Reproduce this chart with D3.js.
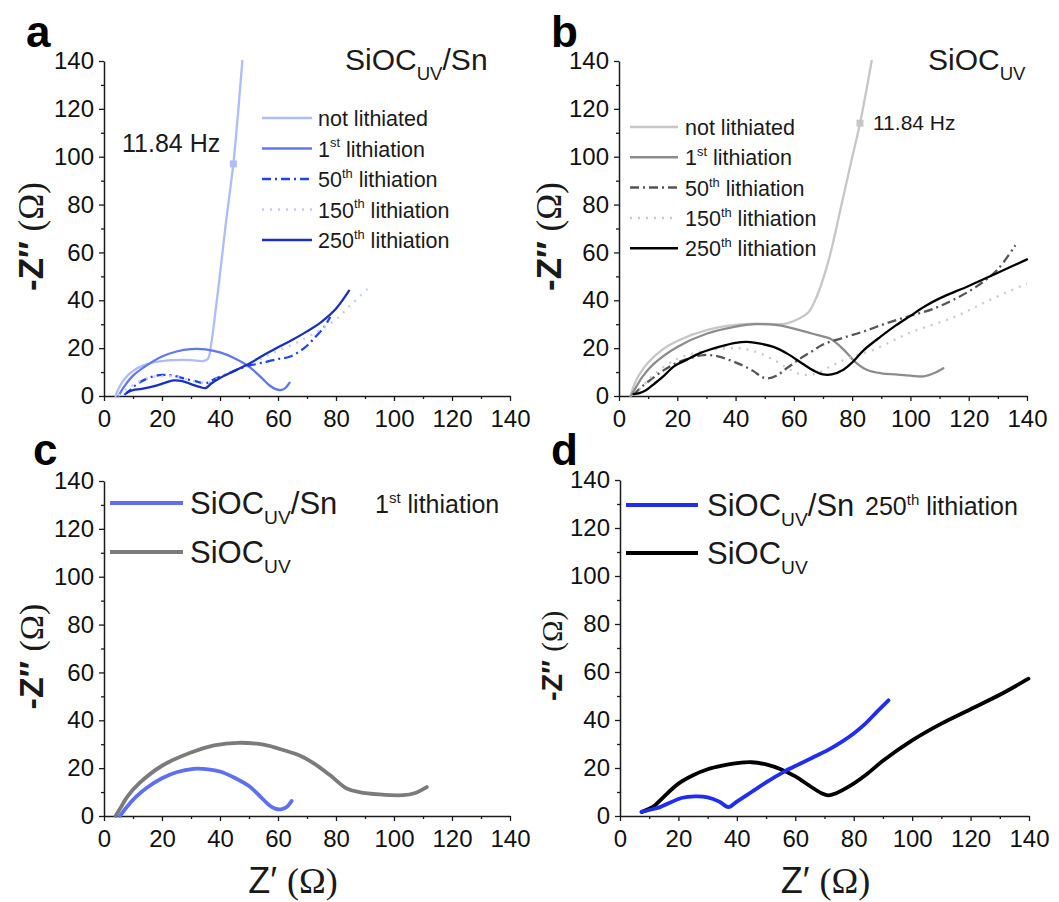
<!DOCTYPE html>
<html><head><meta charset="utf-8">
<script src="https://cdn.jsdelivr.net/npm/d3@7"></script>
<style>body{margin:0;background:#fff} svg{display:block}</style>
</head><body>
<svg id="chart" width="1059" height="902"></svg>
<script>
// ---------- DATA ----------
const xTicks = [0, 20, 40, 60, 80, 100, 120, 140];
const yTicks = [0, 20, 40, 60, 80, 100, 120, 140];
const minorTicks = [10, 30, 50, 70, 90, 110, 130];

// Panel a: SiOC_UV/Sn
const aNotLith = [[4,0],[5,3],[7,7],[10,10.5],[14,13],[18,14.3],[24,15],[30,15],[34,14.6],[35.8,15.5],[37,22],[38,31],[40,51],[42,72],[44.6,97],[46.2,118],[47.7,140]];
const a1st = [[5,0],[7,4],[10,8.5],[15,13],[20,16.5],[25,18.6],[30,19.6],[35,19.5],[40,18.2],[45,15.8],[50,12.3],[54,8],[57,4.5],[59,3],[61,2.5],[62.5,3.3],[64,5.6]];
const a50 = [[7,0.5],[9,2.5],[12,5.5],[16,7.8],[20,8.8],[24,8.5],[28,7.2],[32,6],[35,5.3],[38,7],[42,9],[46,11],[50,12.7],[56,14.3],[60,15.5],[64,16.4],[69,20],[73,24.8],[76,29],[78,33]];
const a150 = [[5,0.3],[8,3],[12,6],[16,7.8],[20,8.3],[25,8],[30,6.5],[34,5.5],[37,6],[40,8],[45,10.5],[50,13],[55,16],[60,19],[65,21.5],[70,24.5],[75,28],[80,32],[85,38],[92,46]];
const a250 = [[8,1.5],[10,2.5],[13,3],[17,4],[21,5.5],[24,6.5],[27,6.2],[30,5],[33,3.8],[35,3.3],[37,5.2],[40,7.5],[45,10.5],[50,13.5],[55,17],[60,20.4],[65,23.5],[70,27],[75,31],[80,36.5],[84.5,44]];
const aMarker = [44.6, 97];

// Panel b: SiOC_UV
const bNotLith = [[4,0],[5,4],[7,9],[10,14],[15,19.5],[20,23],[30,27.5],[40,29.7],[47,30.2],[55,30],[58,30.5],[62,32.5],[65,35],[68,42],[72,57],[76,78],[79.5,97],[82.7,114],[86.7,140]];
const b1st = [[4,0],[6,4],[8,8],[12,13.5],[20,20.5],[30,26],[40,29],[47,30],[55,29.5],[62,27.5],[68,25.5],[72.4,24],[77,19.5],[81,14.3],[85,11],[90,9.5],[95,9],[100,8.5],[104.5,8.2],[108,9.5],[111.3,11.6]];
const b50 = [[5,0.3],[7,3],[10,6],[15,10.5],[20,14],[25,16],[29,17.1],[33,16.8],[38,15],[42,13],[46,10.5],[49,8],[51,7.4],[54,8.5],[58,12],[62,15.5],[66,18.5],[70,21.5],[76,24],[84,27],[92,30.5],[100,33.5],[108,36.5],[116,41],[123,46],[130,53],[136,63]];
const b150 = [[5,0.3],[8,4],[12,9],[20,15.5],[30,19],[38,20],[42,19.9],[48,18],[54,14.5],[58,11.5],[62,9.2],[65,8.8],[68,9.5],[72,12],[78,15.5],[87,19.2],[100,26.5],[115,33],[127,40],[140,47]];
const b250 = [[5,0.8],[7,1.2],[9.4,2.5],[12,5],[15,8],[19,12.5],[23,15],[28,18],[34.6,20.6],[40,22.2],[44,22.6],[48,22],[53,20.5],[58,17.5],[63,13.5],[67,10.5],[70,9],[73,9],[77,11],[80,14],[84,19.2],[90,25],[95,29.5],[100,33.5],[105,37.5],[110,40.8],[120,46],[130,51.5],[140,57.1]];
const bMarker = [82.7, 114];

// Panel c: 1st lithiation
const cSn = [[5.5,0],[8,4],[11,8],[15,12],[20,15.8],[25,18.3],[30.8,19.7],[36,19.5],[40,18.6],[45,16],[50,12.5],[54,8],[57,4.5],[59,3.1],[61,2.8],[63,3.8],[64.7,6.3]];
const cSiOC = [[4,0],[6,4],[8,8],[12,13.5],[20,21],[30,26.5],[38,29.5],[46.3,30.6],[55,29.8],[62,27.5],[68,25],[73,21.5],[78,17],[83.7,11.5],[88,10],[95,9],[103.2,8.7],[107,9.5],[111.3,12.1]];

// Panel d: 250th lithiation
const dSn = [[7.4,1.7],[10,2.5],[13.7,3.7],[17,5.5],[21,7.5],[25.7,8.2],[30,7.8],[34,6],[37.1,3.7],[40,6],[45,10],[50,14],[55.9,18.3],[62,22],[67,25],[71.9,28],[76,31],[79.9,34.3],[84,38.5],[88,43.5],[91.9,48.2]];
const dSiOC = [[7.4,1.7],[10,3],[12,4.5],[15,8],[20,13.5],[25,17],[30,19.5],[35,21],[40,22],[45,22.4],[50,21.5],[55,19.5],[60,16.5],[65,12.5],[69,9.5],[71.3,8.6],[74,9.5],[78,12],[84,17],[90,23],[100,31.5],[110,38.5],[120,44.5],[130,50.5],[139.8,57.2]];

const cycleLabels = [
  [{t:"not lithiated"}],
  [{t:"1"},{t:"st",sup:true},{t:" lithiation"}],
  [{t:"50"},{t:"th",sup:true},{t:" lithiation"}],
  [{t:"150"},{t:"th",sup:true},{t:" lithiation"}],
  [{t:"250"},{t:"th",sup:true},{t:" lithiation"}]
];
const freqLabel = "11.84 Hz";

// ---------- HELPERS ----------
const SANS = "'Liberation Sans', Arial, sans-serif";
const SERIF = "'Liberation Serif', 'Times New Roman', serif";
const svg = d3.select("#chart");

function rich(text, parts, size) {
  let shift = 0;
  parts.forEach(p => {
    let target = 0, fs = size;
    if (p.sub) { target = size * 0.32; fs = size * 0.62; }
    if (p.sup) { target = -size * 0.42; fs = size * 0.6; }
    const ts = text.append("tspan").text(p.t)
      .attr("font-size", fs).attr("dy", target - shift);
    shift = target;
    if (p.family) ts.attr("font-family", p.family);
    if (p.weight) ts.attr("font-weight", p.weight);
  });
  return text;
}

function drawPanel(cfg) {
  const [x0, x1, yT, yB] = cfg.box;
  const x = d3.scaleLinear().domain([0, 140]).range([x0, x1]);
  const y = d3.scaleLinear().domain([0, 140]).range([yB, yT]);
  const g = svg.append("g");

  // axes
  g.append("g").attr("transform", `translate(0,${yB})`)
    .call(d3.axisBottom(x).tickValues(xTicks).tickSize(5).tickSizeOuter(0).tickPadding(9));
  g.append("g").attr("transform", `translate(0,${yB})`)
    .call(d3.axisBottom(x).tickValues(minorTicks).tickSize(3).tickFormat(""))
    .select(".domain").remove();
  g.append("g").attr("transform", `translate(${x0},0)`)
    .call(d3.axisLeft(y).tickValues(yTicks).tickSize(5).tickSizeOuter(0).tickPadding(5));
  g.append("g").attr("transform", `translate(${x0},0)`)
    .call(d3.axisLeft(y).tickValues(minorTicks).tickSize(3).tickFormat(""))
    .select(".domain").remove();
  g.selectAll(".domain").attr("stroke", "#1a1a1a").attr("stroke-width", 1.5);
  g.selectAll(".tick line").attr("stroke", "#1a1a1a").attr("stroke-width", 1.3);
  g.selectAll(".tick text").attr("font-family", SANS).attr("font-size", 24).attr("fill", "#111");

  // series
  const line = d3.line().x(d => x(d[0])).y(d => y(d[1])).curve(d3.curveCatmullRom.alpha(0.5));
  cfg.series.forEach(s => {
    g.append("path").datum(s.data).attr("d", line)
      .attr("fill", "none").attr("stroke", s.color).attr("stroke-width", s.width)
      .attr("stroke-dasharray", s.dash || null).attr("stroke-linecap", s.cap || "round")
      .attr("stroke-linejoin", "round");
  });

  // marker
  if (cfg.marker) {
    g.append("rect").attr("x", x(cfg.marker.pt[0]) - 3.5).attr("y", y(cfg.marker.pt[1]) - 3.5)
      .attr("width", 7).attr("height", 7).attr("fill", cfg.marker.color);
    g.append("text").attr("x", cfg.marker.tx).attr("y", cfg.marker.ty)
      .attr("font-family", SANS).attr("font-size", cfg.marker.size).attr("fill", "#1a1a1a")
      .text(freqLabel);
  }

  // legend
  cfg.legend.forEach((l, i) => {
    const ly = cfg.leg.y0 + i * cfg.leg.dy;
    g.append("line").attr("x1", cfg.leg.lx0).attr("x2", cfg.leg.lx1).attr("y1", ly).attr("y2", ly)
      .attr("stroke", l.color).attr("stroke-width", l.width).attr("stroke-dasharray", l.dash || null);
    rich(g.append("text").attr("x", cfg.leg.tx).attr("y", ly + cfg.leg.off)
      .attr("font-family", SANS).attr("fill", "#1a1a1a"), l.label, cfg.leg.size);
  });

  // title / annotation
  if (cfg.title) {
    rich(g.append("text").attr("x", cfg.title.x).attr("y", cfg.title.y)
      .attr("font-family", SANS).attr("fill", "#1a1a1a"), cfg.title.parts, cfg.title.size);
  }

  // panel letter
  g.append("text").attr("x", cfg.letter.x).attr("y", cfg.letter.y)
    .attr("font-family", SANS).attr("font-weight", "bold").attr("font-size", 44)
    .attr("fill", "#000").text(cfg.letter.t);

  // y label
  const yl = g.append("text").attr("transform", `translate(${cfg.ylab.x},${(yT + yB) / 2 + 8}) rotate(-90)`)
    .attr("text-anchor", "middle").attr("font-family", SANS).attr("fill", "#1a1a1a");
  rich(yl, [{t:"-Z\u2033 ", weight:"bold"}, {t:"(\u03A9)", family: SERIF}], cfg.ylab.size);

  // x label
  if (cfg.xlab) {
    const xl = g.append("text").attr("x", (x0 + x1) / 2 + cfg.xlab).attr("y", 893)
      .attr("text-anchor", "middle").attr("font-family", SANS).attr("fill", "#1a1a1a");
    rich(xl, [{t:"Z\u2032 "}, {t:"(\u03A9)", family: SERIF}], 36);
  }
}

const SnCol = ["#aebcf7", "#5f78ee", "#2244f0", "#c3cdfa", "#1830c0"];
const GrCol = ["#c6c6c6", "#8c8c8c", "#555555", "#cacaca", "#000000"];
const dashes = [null, null, "9,4,2,4", "2,6", null];

function cycleSeries(datas, cols, w) {
  return datas.map((d, i) => ({data: d, color: cols[i], width: w, dash: dashes[i], cap: dashes[i] ? "butt" : "round"}));
}
function cycleLegend(cols, w) {
  return cycleLabels.map((lab, i) => ({label: lab, color: cols[i], width: w, dash: dashes[i]}));
}

drawPanel({
  box: [104, 510, 61, 396],
  series: cycleSeries([aNotLith, a1st, a50, a150, a250], SnCol, 2.3),
  marker: {pt: aMarker, color: "#aebcf7", tx: 122, ty: 152, size: 25},
  legend: cycleLegend(SnCol, 2.5),
  leg: {lx0: 262, lx1: 312, tx: 318, y0: 118, dy: 30.5, off: 8, size: 21.5},
  title: {x: 345, y: 70, size: 30, parts: [{t:"SiOC"}, {t:"UV", sub:true}, {t:"/Sn"}]},
  letter: {t: "a", x: 26, y: 47},
  ylab: {x: 43, size: 35}
});

drawPanel({
  box: [619, 1027, 61, 396],
  series: cycleSeries([bNotLith, b1st, b50, b150, b250], GrCol, 2.3),
  marker: {pt: bMarker, color: "#c6c6c6", tx: 873, ty: 130, size: 21},
  legend: cycleLegend(GrCol, 2.5),
  leg: {lx0: 630, lx1: 678, tx: 685, y0: 127, dy: 30.3, off: 8, size: 21.5},
  title: {x: 928, y: 70, size: 30, parts: [{t:"SiOC"}, {t:"UV", sub:true}]},
  letter: {t: "b", x: 551, y: 47},
  ylab: {x: 561, size: 35}
});

drawPanel({
  box: [104, 510, 481, 816],
  series: [
    {data: cSiOC, color: "#7b7b7b", width: 3.8},
    {data: cSn, color: "#5d70f2", width: 3.8}
  ],
  legend: [
    {label: [{t:"SiOC"}, {t:"UV", sub:true}, {t:"/Sn"}], color: "#5d70f2", width: 4},
    {label: [{t:"SiOC"}, {t:"UV", sub:true}], color: "#7b7b7b", width: 4}
  ],
  leg: {lx0: 110, lx1: 183, tx: 190, y0: 503, dy: 49, off: 11, size: 31},
  title: {x: 375, y: 513, size: 25, parts: [{t:"1"}, {t:"st", sup:true}, {t:" lithiation"}]},
  letter: {t: "c", x: 33, y: 465},
  ylab: {x: 43, size: 34},
  xlab: -14
});

drawPanel({
  box: [620, 1029, 480, 816],
  series: [
    {data: dSiOC, color: "#000000", width: 3.8},
    {data: dSn, color: "#1f2cf2", width: 3.8}
  ],
  legend: [
    {label: [{t:"SiOC"}, {t:"UV", sub:true}, {t:"/Sn"}], color: "#1f2cf2", width: 4},
    {label: [{t:"SiOC"}, {t:"UV", sub:true}], color: "#000000", width: 4}
  ],
  leg: {lx0: 626, lx1: 698, tx: 707, y0: 505, dy: 48, off: 11, size: 31},
  title: {x: 865, y: 515, size: 25, parts: [{t:"250"}, {t:"th", sup:true}, {t:" lithiation"}]},
  letter: {t: "d", x: 551, y: 465},
  ylab: {x: 562, size: 29},
  xlab: 1
});
</script></body></html>
